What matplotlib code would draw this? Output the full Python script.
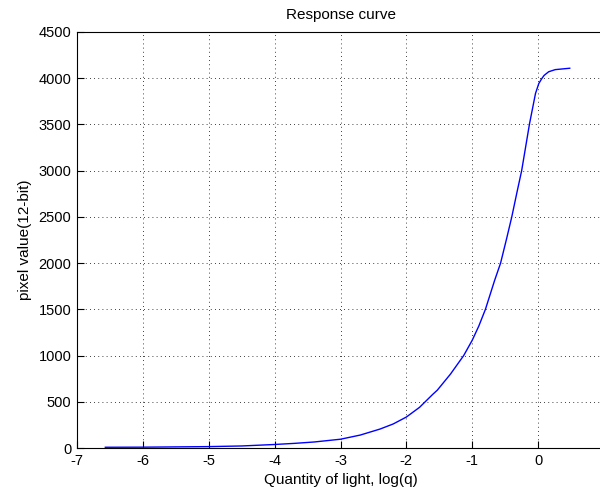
import numpy as np
import matplotlib
matplotlib.use('Agg')
from matplotlib import pyplot as plt

# values
log_q = [-6.57, -6.0, -5.5, -5.0, -4.5, -4.0, -3.7, -3.4, -3.0, -2.7, -2.4, -2.2, -2.0,
         -1.8, -1.6, -1.53, -1.33, -1.13, -1.0, -0.90, -0.80, -0.66, -0.57, -0.48,
         -0.40, -0.32, -0.25, -0.19, -0.13, -0.08, -0.04, 0.01, 0.05, 0.09, 0.16,
         0.26, 0.48]
pixel = [8, 9, 12, 15, 22, 38, 50, 65, 95, 140, 205, 260, 335,
         440, 580, 626, 800, 1000, 1166, 1320, 1500, 1814, 2000, 2260,
         2500, 2770, 3000, 3255, 3510, 3690, 3835, 3942, 3990, 4030, 4070,
         4093, 4108]

x_ticks = [-7, -6, -5, -4, -3, -2, -1, 0, 1]
x_labels = ['-7', '-6', '-5', '-4', '-3', '-2', '-1', '0', '']
y_ticks = [0, 500, 1000, 1500, 2000, 2500, 3000, 3500, 4000, 4500]

plt.rcParams['font.family'] = ['Liberation Sans', 'DejaVu Sans']
plt.rcParams['axes.unicode_minus'] = False

fig = plt.figure(figsize=(6, 4.95), dpi=100)
ax = fig.add_axes([77/600, 47/495, 527/600, 416/495])

ax.plot(log_q, pixel, color='#0000ff', lw=1.0)

ax.set_xlim(-7, 1)
ax.set_ylim(0, 4500)
ax.set_xticks(x_ticks)
ax.set_xticklabels(x_labels)
ax.set_yticks(y_ticks)
ax.tick_params(direction='in', length=5, width=0.8, labelsize=10.5, pad=4)
ax.grid(True, color='black', linestyle=(0, (1, 4)), lw=0.6)
for s in ax.spines.values():
    s.set_linewidth(0.8)

ax.set_title("Response curve", fontsize=11, pad=9)
ax.set_xlabel("Quantity of light, log(q)", fontsize=11, labelpad=4)
ax.set_ylabel("pixel value(12-bit)", fontsize=11, labelpad=5)

fig.savefig('out.png', dpi=100)
